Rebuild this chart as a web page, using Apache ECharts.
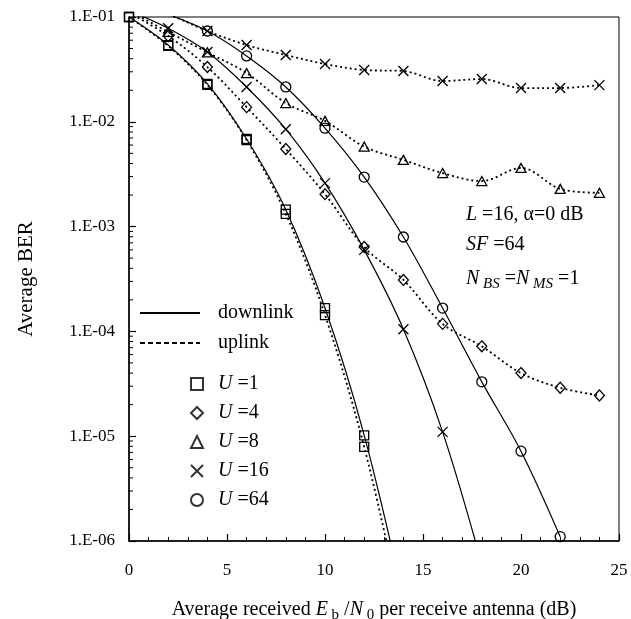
<!DOCTYPE html>
<html><head><meta charset="utf-8">
<script src="https://cdn.jsdelivr.net/npm/echarts@6/dist/echarts.min.js"></script>
<style>html,body{margin:0;padding:0;background:#fff}#c{width:631px;height:619px}</style>
</head><body><div id="c"></div>
<script>
// Eb/N0 (dB) sample points
const snr = [0, 2, 4, 6, 8, 10, 12, 14, 16, 18, 20, 22, 24];
// U=1 (squares)
const u1Down = [0.1, 5.4e-2, 2.3e-2, 6.85e-3, 1.45e-3, 1.67e-4, 1.02e-5];
const u1DownTail = [[14, 2.8e-7]];
const u1Up = [0.1, 5.3e-2, 2.25e-2, 6.7e-3, 1.32e-3, 1.43e-4, 7.9e-6];
const u1UpTail = [[14, 1.8e-7]];
// U=4 (diamonds), uplink
const u4Up = [0.11, 6.6e-2, 3.33e-2, 1.38e-2, 5.5e-3, 2.04e-3, 6.4e-4, 3.1e-4, 1.18e-4, 7.2e-5, 4.0e-5, 2.9e-5, 2.45e-5];
// U=8 (triangles), uplink
const u8Up = [0.115, 7.2e-2, 4.6e-2, 2.92e-2, 1.51e-2, 1.02e-2, 5.8e-3, 4.33e-3, 3.24e-3, 2.72e-3, 3.63e-3, 2.29e-3, 2.1e-3];
// U=16 (crosses)
const u16Down = [0.115, 7.8e-2, 4.64e-2, 2.15e-2, 8.5e-3, 2.6e-3, 6.0e-4, 1.05e-4, 1.1e-5];
const u16DownTail = [[18, 6e-7]];
const u16Up = [0.125, 0.105, 7.35e-2, 5.4e-2, 4.34e-2, 3.56e-2, 3.12e-2, 3.05e-2, 2.45e-2, 2.56e-2, 2.1e-2, 2.1e-2, 2.24e-2];
// U=64 (circles), downlink
const u64Down = [0.14, 0.106, 7.35e-2, 4.25e-2, 2.15e-2, 8.7e-3, 2.97e-3, 7.96e-4, 1.67e-4, 3.3e-5, 7.2e-6, 1.1e-6];
// tick labels
const xTicks = [0, 5, 10, 15, 20, 25];
const yDecades = [-6, -5, -4, -3, -2, -1];

const SERIF = '"Liberation Serif","DejaVu Serif",serif';
const CROSS = 'path://M0,0L10,10M10,0L0,10';
const SYM = {u1: 'rect', u4: 'diamond', u8: 'triangle', u16: CROSS, u64: 'circle'};
const SIZE = {u1: 9, u4: [10, 11], u8: [10, 9], u16: 10, u64: 10};

function pts(vals, tail) {
  const d = vals.map((v, i) => [snr[i], v]);
  (tail || []).forEach(t => d.push({value: t, symbol: 'none'}));
  return d;
}
function lineSeries(name, vals, tail, key, dotted) {
  return {
    name: name, type: 'line', data: pts(vals, tail), smooth: 0.35,
    symbol: SYM[key], symbolSize: SIZE[key], showSymbol: true, clip: true,
    lineStyle: {color: '#000', width: dotted ? 1.8 : 1.2, type: dotted ? [2, 3] : 'solid'},
    itemStyle: {color: 'transparent', borderColor: '#000', borderWidth: 1.3},
    emphasis: {disabled: true}, z: 3
  };
}
// positions of log minor ticks (2..9 x 10^k)
const minorTicks = [];
for (let k = -6; k <= -2; k++) for (let m = 2; m <= 9; m++) minorTicks.push([0, m * Math.pow(10, k)]);

const legendNames = ['U=1', 'U=4', 'U=8', 'U=16', 'U=64'];
const legendKeys = ['u1', 'u4', 'u8', 'u16', 'u64'];

const chart = echarts.init(document.getElementById('c'));
chart.setOption({
  animation: false,
  backgroundColor: '#fff',
  grid: {left: 129, right: 12, top: 17, bottom: 78, containLabel: false, outerBoundsMode: 'none',
         show: true, borderColor: '#000', borderWidth: 1},
  xAxis: {
    type: 'value', min: 0, max: 25, interval: 5,
    axisLine: {lineStyle: {color: '#000', width: 1.5}},
    axisTick: {inside: true, length: 7, lineStyle: {color: '#000', width: 1.2}},
    minorTick: {show: true, splitNumber: 5, length: 4, lineStyle: {color: '#000', width: 1}},
    splitLine: {show: false},
    axisLabel: {color: '#000', fontFamily: SERIF, fontSize: 17, margin: 21},
    name: 'Average received {i|E}{s| b} /{i|N}{s| 0} per receive antenna (dB)',
    nameLocation: 'middle', nameGap: 56,
    nameTextStyle: {color: '#000', fontFamily: SERIF, fontSize: 20, lineHeight: 26,
      rich: {i: {fontStyle: 'italic', fontFamily: SERIF, fontSize: 20, color: '#000', lineHeight: 26},
             s: {fontSize: 15, fontFamily: SERIF, color: '#000', lineHeight: 12, verticalAlign: 'bottom'}}}
  },
  yAxis: {
    type: 'log', logBase: 10, min: 1e-6, max: 1e-1,
    axisLine: {show: true, lineStyle: {color: '#000', width: 1.5}},
    axisTick: {inside: true, length: 7, lineStyle: {color: '#000', width: 1.2}},
    splitLine: {show: false},
    axisLabel: {color: '#000', fontFamily: SERIF, fontSize: 17, margin: 14,
      formatter: v => { const e = Math.round(Math.log10(v)); return '1.E-' + String(-e).padStart(2, '0'); }},
    name: 'Average BER', nameLocation: 'middle', nameGap: 92, nameRotate: 90,
    nameTextStyle: {color: '#000', fontFamily: SERIF, fontSize: 21}
  },
  legend: [
    {data: ['downlink', 'uplink'], orient: 'vertical', left: 134, top: 298,
     itemWidth: 60, itemHeight: 14, itemGap: 10, selectedMode: false,
     itemStyle: {opacity: 0},
     textStyle: {color: '#000', fontFamily: SERIF, fontSize: 20, lineHeight: 20, padding: [0, 0, 0, 13]}},
    {data: legendNames, orient: 'vertical', left: 185, top: 369,
     itemWidth: 12, itemHeight: 12, itemGap: 9, selectedMode: false,
     formatter: n => '{i|U} =' + n.split('=')[1],
     textStyle: {color: '#000', fontFamily: SERIF, fontSize: 20, lineHeight: 20, padding: [0, 0, 0, 10],
       rich: {i: {fontStyle: 'italic', fontFamily: SERIF, fontSize: 20, color: '#000', lineHeight: 20}}}}
  ],
  graphic: [
    {type: 'text', left: 466, top: 202, style: {
      text: '{i|L} =16, \u03b1=0 dB', fontFamily: SERIF, fontSize: 20, fill: '#000', lineHeight: 26,
      rich: {i: {fontStyle: 'italic', fontFamily: SERIF, fontSize: 20, fill: '#000', lineHeight: 26}}}},
    {type: 'text', left: 466, top: 232, style: {
      text: '{i|SF} =64', fontFamily: SERIF, fontSize: 20, fill: '#000', lineHeight: 26,
      rich: {i: {fontStyle: 'italic', fontFamily: SERIF, fontSize: 20, fill: '#000', lineHeight: 26}}}},
    {type: 'text', left: 466, top: 266, style: {
      text: '{i|N}{s| BS} ={i|N}{s| MS} =1', fontFamily: SERIF, fontSize: 20, fill: '#000', lineHeight: 26,
      rich: {i: {fontStyle: 'italic', fontFamily: SERIF, fontSize: 20, fill: '#000', lineHeight: 26},
             s: {fontStyle: 'italic', fontFamily: SERIF, fontSize: 15, fill: '#000', lineHeight: 12, verticalAlign: 'bottom'}}}}
  ],
  series: [
    lineSeries('u1d', u1Down, u1DownTail, 'u1', false),
    lineSeries('u1u', u1Up, u1UpTail, 'u1', true),
    lineSeries('u4u', u4Up, null, 'u4', true),
    lineSeries('u8u', u8Up, null, 'u8', true),
    lineSeries('u16d', u16Down, u16DownTail, 'u16', false),
    lineSeries('u16u', u16Up, null, 'u16', true),
    lineSeries('u64d', u64Down, null, 'u64', false),
    {name: 'downlink', type: 'line', data: [], symbol: 'none', symbolSize: 0, itemStyle: {color: '#000', opacity: 0},
     lineStyle: {color: '#000', width: 1.5}},
    {name: 'uplink', type: 'line', data: [], symbol: 'none', symbolSize: 0, itemStyle: {color: '#000', opacity: 0},
     lineStyle: {color: '#000', width: 1.5, type: [5, 3]}},
    ...legendNames.map((n, i) => ({name: n, type: 'scatter', data: [], symbol: SYM[legendKeys[i]],
      itemStyle: {color: 'transparent', borderColor: '#000', borderWidth: 1.3}})),
    {type: 'custom', data: minorTicks, encode: {x: 0, y: 1}, silent: true, clip: false, z: 5,
     renderItem: (params, api) => {
       const p = api.coord([api.value(0), api.value(1)]);
       return {type: 'line', shape: {x1: p[0], y1: p[1], x2: p[0] + 4, y2: p[1]}, style: {stroke: '#000', lineWidth: 1}};
     }}
  ]
});
</script></body></html>
